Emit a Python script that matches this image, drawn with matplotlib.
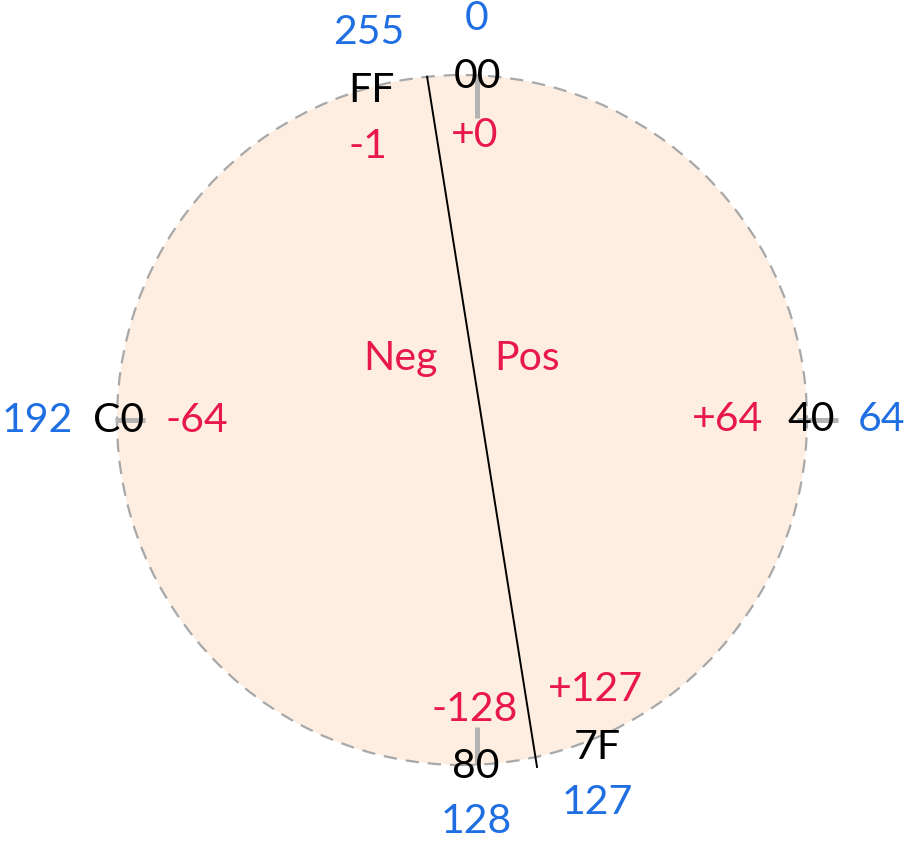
import numpy as np
import matplotlib
matplotlib.use("Agg")
import matplotlib.pyplot as plt
from matplotlib.patches import Circle

# byte values shown round the wheel
unsigned_vals = [0, 64, 127, 128, 192, 255]
hex_labels = ["%02X" % v for v in unsigned_vals]
signed_vals = [v if v < 128 else v - 256 for v in unsigned_vals]
signed_labels = [("+%d" % s) if s >= 0 else ("%d" % s) for s in signed_vals]
half_labels = ["Neg", "Pos"]

# layout (angle clockwise from top in degrees, radius in px)
blue_ang = [2.1, 90, 160.6, 177.9, 270, -13.5]
blue_rad = [402, 419, 406, 402, 425, 399]
black_ang = [2.5, 90, 157.6, 177.7, 270, -15.4]
black_rad = [344, 349, 354, 347, 343, 342]
red_ang = [2.6, 90, 153.6, 177.4, 270, -19.0]
red_rad = [285, 265, 301, 290, 265, 289]

tick_vals = [0, 64, 128, 192]
tick_r0 = [302, 335, 307, 317]
tick_r1 = [345, 376, 345, 347]
tick_shift = [15, 0, 15, 0]

divider_ang = [-5.8, 167.8]
divider_rad = [345, 355]

R = 345
col_blue = "#1f6fe3"
col_red = "#e8184a"
col_fill = "#fdeee1"
fnt = "Lato"
fs = 29.5


def pos(ang, r):
    a = np.deg2rad(ang)
    return r * np.sin(a), r * np.cos(a)


fig = plt.figure(figsize=(9.06, 8.44), dpi=100)
ax = fig.add_axes([0, 0, 1, 1])
ax.set_xlim(-462, 906 - 462)
ax.set_ylim(-(844 - 420), 420)
ax.set_aspect("equal")
ax.axis("off")

ax.add_patch(Circle((0, 0), R, facecolor=col_fill, edgecolor="#a8a8a8",
                    linewidth=1.6, linestyle=(0, (6, 4)), zorder=1))

# gray ticks at the quarter points
for v, r0, r1, sh in zip(tick_vals, tick_r0, tick_r1, tick_shift):
    ang = v / 256.0 * 360
    x0, y0 = pos(ang, r0)
    x1, y1 = pos(ang, r1)
    ax.plot([x0 + sh, x1 + sh], [y0, y1], color="#b3b3b3", lw=3.6,
            solid_capstyle="butt", zorder=2)

# sign divider
dx, dy = zip(*[pos(a, r) for a, r in zip(divider_ang, divider_rad)])
ax.plot(dx, dy, color="black", lw=1.4, zorder=3)

for i in range(len(unsigned_vals)):
    x, y = pos(blue_ang[i], blue_rad[i])
    ax.text(x, y, str(unsigned_vals[i]), color=col_blue, fontsize=fs,
            family=fnt, ha="center", va="center", zorder=4)
    x, y = pos(black_ang[i], black_rad[i])
    ax.text(x, y, hex_labels[i], color="black", fontsize=fs,
            family=fnt, ha="center", va="center", zorder=4)
    x, y = pos(red_ang[i], red_rad[i])
    ax.text(x, y, signed_labels[i], color=col_red, fontsize=fs,
            family=fnt, ha="center", va="center", zorder=4)

ax.text(-62, 61, half_labels[0], color=col_red, fontsize=fs, family=fnt,
        ha="center", va="center", zorder=4)
ax.text(65, 61, half_labels[1], color=col_red, fontsize=fs, family=fnt,
        ha="center", va="center", zorder=4)

plt.savefig("out.png", dpi=100)
plt.close()
